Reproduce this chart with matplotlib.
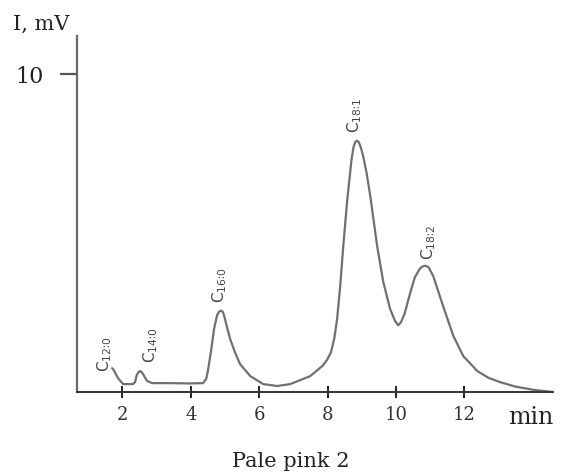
import matplotlib
matplotlib.use("Agg")
import matplotlib.pyplot as plt

# Chromatogram trace: retention time (min) and detector signal (mV)
time_min = [
    1.70, 1.73, 1.87, 2.02, 2.17, 2.31, 2.37, 2.42, 2.47, 2.52, 2.56, 2.60,
    2.72, 2.87, 3.39, 3.98, 4.36, 4.45, 4.51, 4.60, 4.68, 4.77, 4.83, 4.88,
    4.93, 4.97, 5.06, 5.15, 5.30, 5.44, 5.74, 6.12, 6.53, 6.91, 7.49, 7.85,
    7.99, 8.10, 8.20, 8.28, 8.37, 8.46, 8.57, 8.70, 8.76, 8.81, 8.86, 8.91,
    8.97, 9.04, 9.14, 9.25, 9.45, 9.63, 9.83, 9.98, 10.07, 10.15, 10.25,
    10.40, 10.55, 10.70, 10.78, 10.86, 10.95, 11.09, 11.38, 11.68, 11.97,
    12.38, 12.70, 13.05, 13.50, 14.02, 14.60,
]
signal_mv = [
    0.75, 0.72, 0.44, 0.25, 0.25, 0.25, 0.31, 0.53, 0.63, 0.66, 0.63, 0.57,
    0.35, 0.28, 0.28, 0.27, 0.28, 0.41, 0.72, 1.35, 1.98, 2.42, 2.53, 2.56,
    2.53, 2.42, 2.04, 1.67, 1.23, 0.88, 0.50, 0.25, 0.19, 0.25, 0.50, 0.82,
    1.02, 1.25, 1.70, 2.30, 3.33, 4.59, 5.97, 7.30, 7.70, 7.86, 7.90, 7.86,
    7.70, 7.42, 6.90, 6.16, 4.59, 3.46, 2.61, 2.22, 2.10, 2.20, 2.45,
    3.05, 3.60, 3.88, 3.95, 3.97, 3.93, 3.65, 2.70, 1.76, 1.13,
    0.66, 0.45, 0.31, 0.17, 0.07, 0.00,
]

# Identified fatty acid peaks
peak_names = ["12∶0", "14∶0", "16∶0", "18∶1", "18∶2"]
peak_times = [1.70, 2.52, 4.88, 8.86, 10.86]
peak_heights = [0.75, 0.66, 2.56, 7.90, 3.97]

x_ticks = [2, 4, 6, 8, 10, 12]
y_ticks = [10]

fig = plt.figure(figsize=(5.68, 4.77), dpi=100)
ax = fig.add_axes([0.136, 0.176, 0.838, 0.747])

ax.plot(time_min, signal_mv, color="#707070", lw=1.6,
        solid_joinstyle="round", solid_capstyle="round")

ax.set_xlim(0.68, 14.6)
ax.set_ylim(0, 11.2)

for s in ("top", "right"):
    ax.spines[s].set_visible(False)
ax.spines["left"].set_color("#6a6a6a")
ax.spines["left"].set_linewidth(1.6)
ax.spines["bottom"].set_color("#333333")
ax.spines["bottom"].set_linewidth(1.4)

serif = "DejaVu Serif"
ax.set_xticks(x_ticks)
ax.set_xticklabels([str(t) for t in x_ticks], family=serif, fontsize=13, color="#333333")
ax.tick_params(axis="x", direction="inout", length=9, width=1.4, color="#222222", pad=5)
ax.set_yticks(y_ticks)
ax.set_yticklabels([str(t) for t in y_ticks], family=serif, fontsize=16, color="#222222")
ax.tick_params(axis="y", direction="out", length=12, width=1.6, color="#555555", pad=12)

fig.text(13 / 568, 1 - 24 / 477, "I, mV", family=serif, fontsize=15,
         color="#222222", ha="left", va="center")
fig.text(531 / 568, 1 - 418 / 477, "min", family=serif, fontsize=17,
         color="#222222", ha="center", va="center")
fig.text(291 / 568, 1 - 462 / 477, "Pale pink 2", family=serif, fontsize=15,
         color="#222222", ha="center", va="center")

# Peak labels, rotated, sitting just above each peak
offsets = [(-0.21, -0.09), (0.32, 0.28), (-0.05, 0.27), (-0.08, 0.28), (0.09, 0.21)]
for name, t, h, (dx, dy) in zip(peak_names, peak_times, peak_heights, offsets):
    ax.text(t + dx, h + dy, "C$_\\mathregular{" + name + "}$", rotation=90,
            ha="center", va="bottom", fontsize=11, color="#444444",
            family=["Liberation Sans Narrow", "DejaVu Sans"])

fig.savefig("out.png", dpi=100)
